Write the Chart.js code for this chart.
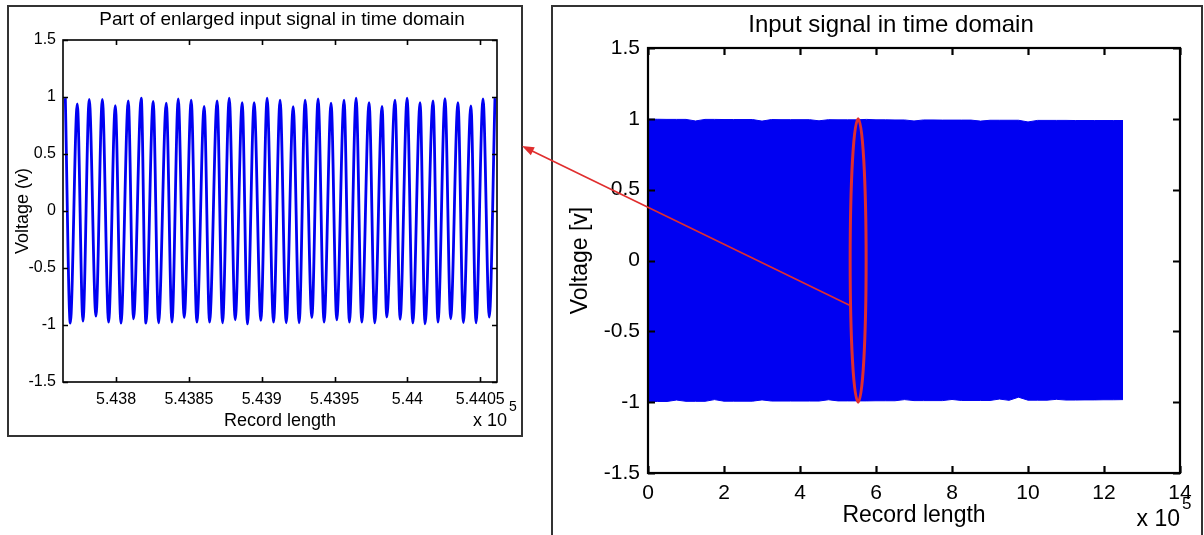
<!DOCTYPE html>
<html>
<head>
<meta charset="utf-8">
<title>Input signal in time domain</title>
<script src="https://cdn.jsdelivr.net/npm/chart.js@4.4.0/dist/chart.umd.min.js"></script>
<style>
  html, body { margin: 0; padding: 0; background: #fff; width: 1204px; height: 535px; overflow: hidden; }
  .box { position: absolute; border: 2px solid #333; background: #fff; }
  .box canvas { display: block; }
  #leftBox { left: 7px; top: 5px; width: 512px; height: 428px; }
  #rightBox { left: 551px; top: 5px; width: 648px; height: 530px; }
  #overlay { position: absolute; left: 0; top: 0; pointer-events: none; }
</style>
</head>
<body>
<div class="box" id="leftBox"><canvas id="leftChart" width="512" height="428"></canvas></div>
<div class="box" id="rightBox"><canvas id="rightChart" width="648" height="530"></canvas></div>
<canvas id="overlay" width="1204" height="535"></canvas>
<script>
// Zoomed-in window: peaks and troughs of the sampled sine (record index, volts)
const peakX = [543765.2, 543773.4, 543781.6, 543790.6, 543799.5, 543808.4, 543817.3, 543825.5, 543834.5, 543842.7,
               543851.6, 543860.5, 543869.4, 543877.7, 543886.6, 543894.8, 543903.7, 543912.6, 543921.6, 543929.8,
               543938.7, 543947.6, 543956.5, 543964.8, 543973.7, 543982.6, 543991.5, 543999.8, 544008.7, 544017.6,
               544025.8, 544034.7, 544043.6, 544051.9, 544060.1];
const peakY = [0.99, 0.94, 0.98, 0.98, 0.925, 0.965, 0.99, 0.962, 0.946, 0.983,
               0.972, 0.918, 0.966, 0.99, 0.95, 0.95, 0.99, 0.973, 0.915, 0.973,
               0.983, 0.947, 0.973, 0.99, 0.95, 0.918, 0.973, 0.99, 0.95, 0.966,
               0.986, 0.95, 0.921, 0.983, 0.99];
const troughX = [543768.6, 543777.3, 543786.2, 543794.9, 543803.4, 543812.0, 543820.5, 543829.2, 543838.4, 543846.8,
                 543855.5, 543864.2, 543873.1, 543881.8, 543890.2, 543899.4, 543908.1, 543916.8, 543925.7, 543934.4,
                 543942.8, 543951.5, 543960.2, 543968.7, 543977.6, 543985.8, 543995.0, 544003.7, 544012.1, 544021.0,
                 544029.7, 544038.4, 544047.1, 544056.2];
const troughY = [-0.984, -0.966, -0.923, -0.975, -0.984, -0.945, -0.984, -0.981, -0.975, -0.935,
                 -0.975, -0.975, -0.981, -0.954, -0.99, -0.96, -0.975, -0.981, -0.981, -0.935,
                 -0.975, -0.954, -0.975, -0.975, -0.981, -0.93, -0.95, -0.981, -0.99, -0.975,
                 -0.945, -0.978, -0.981, -0.93];

// Full record: envelope of the dense signal
const envX = [0, 25000, 50000, 75000, 100000, 125000, 150000, 175000, 200000, 225000,
              250000, 275000, 300000, 325000, 350000, 375000, 400000, 425000, 450000, 475000,
              500000, 525000, 550000, 575000, 600000, 625000, 650000, 675000, 700000, 725000,
              750000, 775000, 800000, 825000, 850000, 875000, 900000, 925000, 950000, 975000,
              1000000, 1025000, 1050000, 1075000, 1100000, 1125000, 1150000, 1175000, 1200000, 1225000,
              1250000];
const envUpper = [0.997, 0.997, 0.996, 0.996, 0.996, 0.985, 0.996, 0.996, 0.995, 0.995,
                  0.995, 0.995, 0.984, 0.995, 0.994, 0.994, 0.994, 0.994, 0.986, 0.994,
                  0.993, 0.993, 0.993, 0.996, 0.993, 0.993, 0.992, 0.992, 0.985, 0.992,
                  0.992, 0.991, 0.991, 0.991, 0.991, 0.984, 0.99, 0.99, 0.99, 0.99,
                  0.978, 0.989, 0.989, 0.989, 0.989, 0.988, 0.988, 0.988, 0.988, 0.988,
                  0.988];
const envLower = [-0.995, -0.995, -0.995, -0.985, -0.994, -0.994, -0.994, -0.982, -0.993, -0.993,
                  -0.993, -0.993, -0.984, -0.992, -0.992, -0.992, -0.992, -0.992, -0.992, -0.983,
                  -0.991, -0.991, -0.991, -0.991, -0.99, -0.99, -0.99, -0.982, -0.989, -0.989,
                  -0.989, -0.989, -0.981, -0.988, -0.988, -0.988, -0.988, -0.978, -0.987, -0.965,
                  -0.986, -0.986, -0.986, -0.98, -0.985, -0.985, -0.984, -0.984, -0.983, -0.983,
                  -0.982];

// Axis ticks
const leftXTicks = [543800, 543850, 543900, 543950, 544000, 544050];
const leftXLabels = ['5.438', '5.4385', '5.439', '5.4395', '5.44', '5.4405'];
const rightXTicks = [0, 200000, 400000, 600000, 800000, 1000000, 1200000, 1400000];
const rightXLabels = ['0', '2', '4', '6', '8', '10', '12', '14'];
const yTicks = [-1.5, -1, -0.5, 0, 0.5, 1, 1.5];
const yLabels = ['-1.5', '-1', '-0.5', '0', '0.5', '1', '1.5'];

// Zoom marker on the full record
const markX = 553000;
const markHalfWidth = 21000;
const markHalfHeight = 1;

const FONT = "'Liberation Sans', Arial, sans-serif";
const BLUE = '#0000f2';
const RED = 'rgb(224, 46, 46)';

Chart.defaults.color = '#000';
Chart.defaults.font.family = FONT;

// Matlab style box with inward ticks on all four sides
const matlabAxes = {
    id: 'matlabAxes',
    afterDatasetsDraw(chart, args, opts) {
        const { ctx, chartArea: a, scales: { x, y } } = chart;
        ctx.save();
        ctx.strokeStyle = '#000';
        ctx.lineWidth = opts.width;
        ctx.beginPath();
        x.ticks.forEach(t => {
            const px = Math.round(x.getPixelForValue(t.value)) + 0.5;
            ctx.moveTo(px, a.bottom); ctx.lineTo(px, a.bottom - opts.len);
            ctx.moveTo(px, a.top); ctx.lineTo(px, a.top + opts.len);
        });
        y.ticks.forEach(t => {
            const py = Math.round(y.getPixelForValue(t.value)) + 0.5;
            ctx.moveTo(a.left, py); ctx.lineTo(a.left + opts.len, py);
            ctx.moveTo(a.right, py); ctx.lineTo(a.right - opts.len, py);
        });
        ctx.stroke();
        ctx.strokeRect(a.left, a.top, a.right - a.left, a.bottom - a.top);
        ctx.restore();
    }
};

// Axes title, centred over the plot area like Matlab does
const axesTitle = {
    id: 'axesTitle',
    afterDraw(chart, args, o) {
        const { ctx, chartArea: a } = chart;
        ctx.save();
        ctx.fillStyle = '#000';
        ctx.textAlign = 'center';
        ctx.textBaseline = 'middle';
        ctx.font = o.size + 'px ' + FONT;
        ctx.fillText(o.text, (a.left + a.right) / 2 + o.dx, a.top - o.dy);
        ctx.restore();
    }
};

// "x 10^5" multiplier under the right end of the x axis
const exponentLabel = {
    id: 'exponentLabel',
    afterDraw(chart, args, o) {
        const { ctx, chartArea: a } = chart;
        ctx.save();
        ctx.fillStyle = '#000';
        ctx.textBaseline = 'middle';
        ctx.textAlign = 'right';
        ctx.font = o.size + 'px ' + FONT;
        ctx.fillText('x 10', a.right + o.dx, a.bottom + o.dy);
        ctx.textAlign = 'left';
        ctx.font = o.supSize + 'px ' + FONT;
        ctx.fillText('5', a.right + o.dx + 2, a.bottom + o.dy - o.supRise);
        ctx.restore();
    }
};

// Red ellipse around the zoomed region
const zoomMark = {
    id: 'zoomMark',
    afterDatasetsDraw(chart) {
        const { ctx, scales: { x, y } } = chart;
        const cx = x.getPixelForValue(markX);
        const cy = y.getPixelForValue(0);
        const rx = x.getPixelForValue(markX + markHalfWidth) - cx;
        const ry = cy - y.getPixelForValue(markHalfHeight);
        ctx.save();
        ctx.strokeStyle = RED;
        ctx.lineWidth = 3;
        ctx.beginPath();
        ctx.ellipse(cx, cy, rx, ry, 0, 0, Math.PI * 2);
        ctx.stroke();
        ctx.restore();
    }
};

function axisOptions(cfg) {
    return {
        x: {
            type: 'linear',
            min: cfg.xMin,
            max: cfg.xMax,
            afterBuildTicks: s => { s.ticks = cfg.xTicks.map(v => ({ value: v })); },
            afterFit: s => { s.height = cfg.xHeight; },
            grid: { display: false, drawTicks: false },
            border: { display: false },
            ticks: {
                autoSkip: false, maxRotation: 0,
                padding: cfg.xPad,
                font: { size: cfg.tickSize },
                callback: v => cfg.xLabels[cfg.xTicks.indexOf(v)]
            },
            title: {
                display: true, text: 'Record length',
                font: { size: cfg.labelSize },
                padding: { top: 0, bottom: cfg.xTitlePad }
            }
        },
        y: {
            type: 'linear',
            min: -1.5,
            max: 1.5,
            afterBuildTicks: s => { s.ticks = yTicks.map(v => ({ value: v })); },
            afterFit: s => { s.width = cfg.yWidth; },
            grid: { display: false, drawTicks: false },
            border: { display: false },
            ticks: {
                padding: cfg.yPad,
                font: { size: cfg.tickSize },
                callback: v => yLabels[yTicks.indexOf(v)]
            },
            title: {
                display: true, text: cfg.yTitle,
                font: { size: cfg.labelSize },
                padding: { top: cfg.yTitlePad, bottom: 0 }
            }
        }
    };
}

// Left: enlarged part of the signal
const zoomPoints = [];
peakX.forEach((x, i) => zoomPoints.push({ x: x, y: peakY[i] }));
troughX.forEach((x, i) => zoomPoints.push({ x: x, y: troughY[i] }));
zoomPoints.sort((p, q) => p.x - q.x);

const leftChart = new Chart(document.getElementById('leftChart'), {
    type: 'line',
    data: {
        datasets: [{
            data: zoomPoints,
            borderColor: BLUE,
            borderWidth: 2.8,
            pointRadius: 0,
            fill: false,
            cubicInterpolationMode: 'monotone'
        }]
    },
    options: {
        responsive: false,
        animation: false,
        events: [],
        layout: { padding: { left: 0, right: 24, top: 33, bottom: 0 } },
        plugins: {
            legend: { display: false },
            tooltip: { enabled: false },
            title: { display: false },
            axesTitle: { text: 'Part of enlarged input signal in time domain', size: 19, dx: 2, dy: 20 },
            matlabAxes: { width: 1.6, len: 5 },
            exponentLabel: { dx: 10, dy: 39, size: 18, supSize: 14, supRise: 14 }
        },
        scales: axisOptions({
            xMin: 543763.6, xMax: 544061.5,
            xTicks: leftXTicks, xLabels: leftXLabels,
            xHeight: 53, yWidth: 54,
            xPad: 8, yPad: 7, xTitlePad: 3,
            tickSize: 16, labelSize: 18,
            yTitle: 'Voltage (v)', yTitlePad: 3
        })
    },
    plugins: [matlabAxes, axesTitle, exponentLabel]
});

// Right: whole record
const rightChart = new Chart(document.getElementById('rightChart'), {
    type: 'line',
    data: {
        datasets: [{
            data: envX.map((x, i) => ({ x: x, y: envUpper[i] })),
            borderColor: BLUE,
            borderWidth: 1,
            pointRadius: 0,
            fill: false,
            tension: 0
        }, {
            data: envX.map((x, i) => ({ x: x, y: envLower[i] })),
            borderColor: BLUE,
            backgroundColor: BLUE,
            borderWidth: 1,
            pointRadius: 0,
            fill: '-1',
            tension: 0
        }]
    },
    options: {
        responsive: false,
        animation: false,
        events: [],
        layout: { padding: { left: 0, right: 21, top: 41, bottom: 0 } },
        plugins: {
            legend: { display: false },
            tooltip: { enabled: false },
            title: { display: false },
            axesTitle: { text: 'Input signal in time domain', size: 24, dx: -23, dy: 23 },
            matlabAxes: { width: 2.2, len: 7 },
            exponentLabel: { dx: 0, dy: 47, size: 23, supSize: 17, supRise: 16 }
        },
        scales: axisOptions({
            xMin: 0, xMax: 1400000,
            xTicks: rightXTicks, xLabels: rightXLabels,
            xHeight: 64, yWidth: 95,
            xPad: 8, yPad: 8, xTitlePad: 8,
            tickSize: 21, labelSize: 23,
            yTitle: 'Voltage [v]', yTitlePad: 14
        })
    },
    plugins: [matlabAxes, axesTitle, exponentLabel, zoomMark]
});

// Arrow from the ellipse to the enlarged view
function drawArrow() {
    const ctx = document.getElementById('overlay').getContext('2d');
    const rRect = rightChart.canvas.getBoundingClientRect();
    const lRect = leftChart.canvas.getBoundingClientRect();
    const boxRect = document.getElementById('leftBox').getBoundingClientRect();
    const rx = rightChart.scales.x, ry = rightChart.scales.y;
    const fromY = -0.32;
    const t = fromY / markHalfHeight;
    const halfW = rx.getPixelForValue(markX + markHalfWidth) - rx.getPixelForValue(markX);
    const x0 = rRect.left + rx.getPixelForValue(markX) - halfW * Math.sqrt(1 - t * t);
    const y0 = rRect.top + ry.getPixelForValue(fromY);
    const x1 = boxRect.right - 1;
    const y1 = lRect.top + leftChart.scales.y.getPixelForValue(0.57);
    const ang = Math.atan2(y1 - y0, x1 - x0);
    const head = 12, half = 4.5;
    ctx.strokeStyle = RED;
    ctx.fillStyle = RED;
    ctx.lineWidth = 1.6;
    ctx.beginPath();
    ctx.moveTo(x0, y0);
    ctx.lineTo(x1 - Math.cos(ang) * head * 0.8, y1 - Math.sin(ang) * head * 0.8);
    ctx.stroke();
    ctx.beginPath();
    ctx.moveTo(x1, y1);
    ctx.lineTo(x1 - Math.cos(ang) * head - Math.sin(ang) * half, y1 - Math.sin(ang) * head + Math.cos(ang) * half);
    ctx.lineTo(x1 - Math.cos(ang) * head + Math.sin(ang) * half, y1 - Math.sin(ang) * head - Math.cos(ang) * half);
    ctx.closePath();
    ctx.fill();
}
drawArrow();
</script>
</body>
</html>
